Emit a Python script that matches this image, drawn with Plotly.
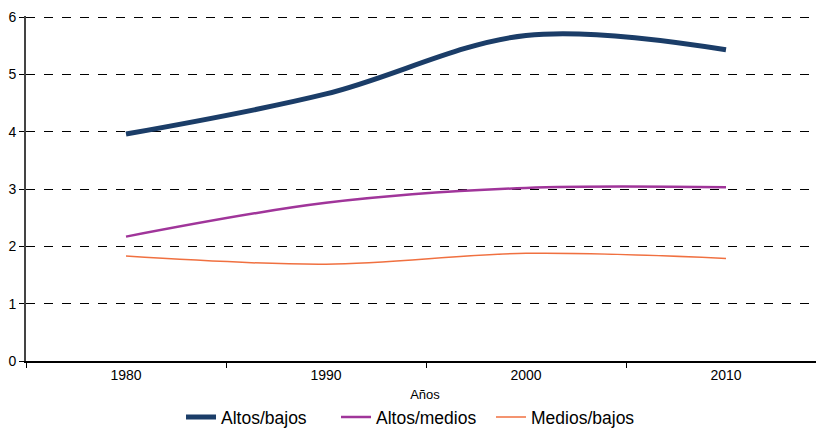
import plotly.graph_objects as go

years = ["1980", "1990", "2000", "2010"]
altos_bajos = [3.96, 4.66, 5.68, 5.43]
altos_medios = [2.17, 2.76, 3.02, 3.03]
medios_bajos = [1.83, 1.69, 1.88, 1.79]
y_ticks = [0, 1, 2, 3, 4, 5, 6]

fig = go.Figure()
fig.add_trace(go.Scatter(x=years, y=altos_bajos, name="Altos/bajos", mode="lines",
                         line=dict(color="#1B3D68", width=5, shape="spline", smoothing=1)))
fig.add_trace(go.Scatter(x=years, y=altos_medios, name="Altos/medios", mode="lines",
                         line=dict(color="#A0359A", width=2.5, shape="spline", smoothing=1)))
fig.add_trace(go.Scatter(x=years, y=medios_bajos, name="Medios/bajos", mode="lines",
                         line=dict(color="#F07040", width=1.5, shape="spline", smoothing=1)))

fig.update_layout(
    width=816, height=420,
    margin=dict(l=18, r=0, t=8, b=67, autoexpand=False),
    paper_bgcolor="white", plot_bgcolor="white",
    font=dict(family="Liberation Sans, Arial, sans-serif", color="#000000", size=14),
    showlegend=True,
    legend=dict(orientation="h", x=0.4856, xanchor="center", y=-0.163, yanchor="middle",
                font=dict(size=17.5), tracegroupgap=0,
                entrywidth=110, entrywidthmode="pixels"),
    xaxis=dict(type="category", tickson="boundaries", ticks="outside", ticklen=5,
               tickcolor="#000", showline=True, linecolor="#000", linewidth=1.5,
               showgrid=False, tickfont=dict(size=14), automargin=False,
               title=dict(text="Años", font=dict(size=13), standoff=8),
               range=[-0.5, 3.49]),
    yaxis=dict(range=[0, 6.02], tickvals=y_ticks, ticks="outside", ticklen=5,
               tickcolor="#000", showline=True, linecolor="#444", linewidth=2,
               showgrid=True, gridcolor="#000", griddash="dash", gridwidth=1,
               zeroline=False, tickfont=dict(size=14), automargin=False),
)
fig.write_html("out.html")
